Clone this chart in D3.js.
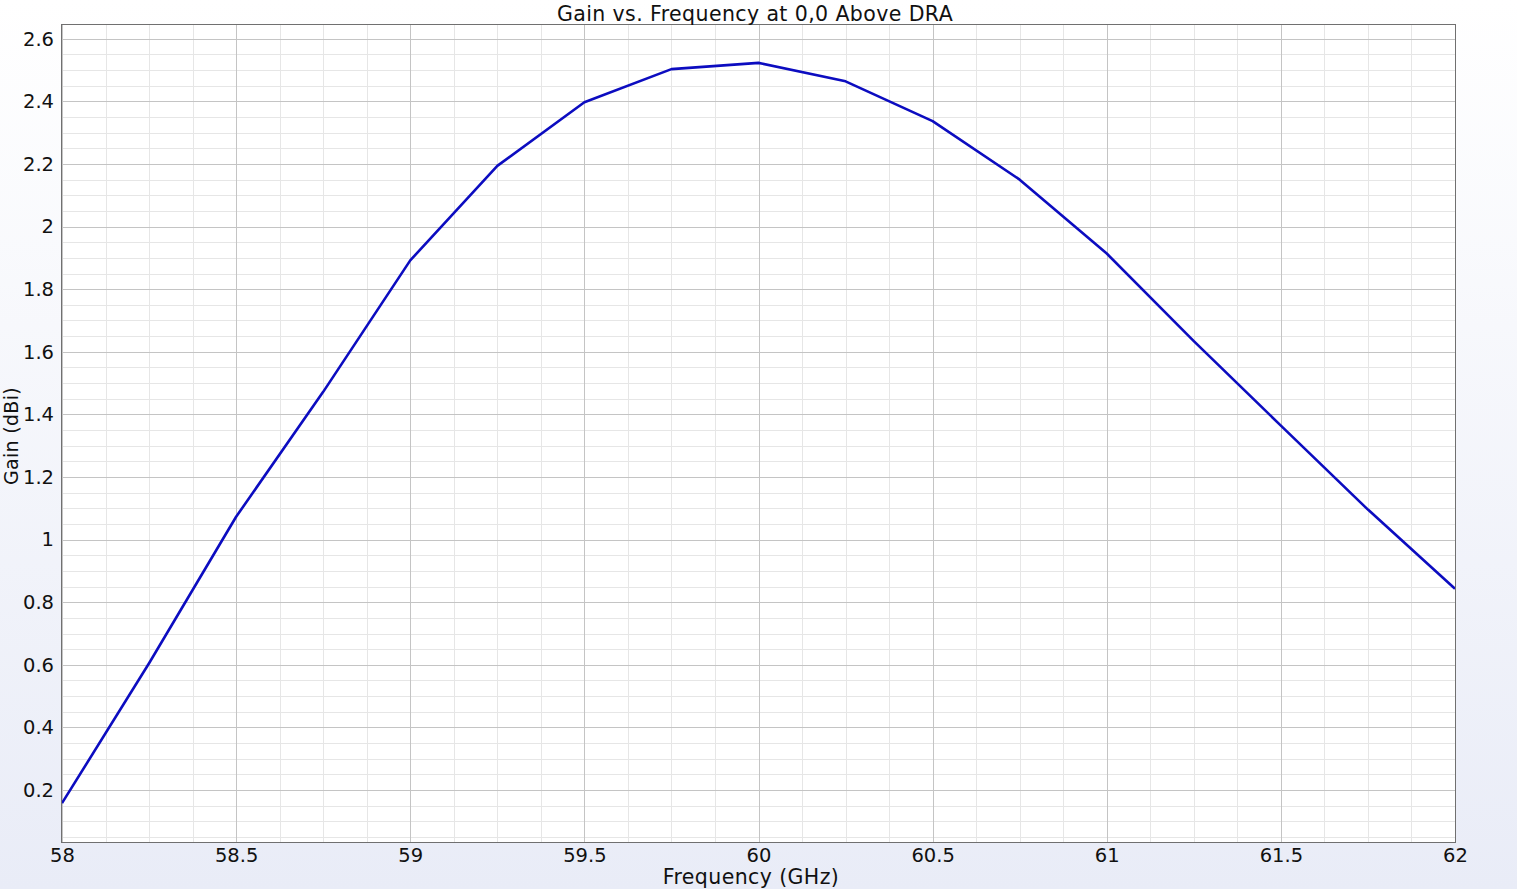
<!DOCTYPE html>
<html>
<head>
<meta charset="utf-8">
<script src="https://cdn.jsdelivr.net/npm/d3@7"></script>
<style>
  html, body { margin: 0; padding: 0; overflow: hidden; }
  body { font-family: "DejaVu Sans", sans-serif; }
</style>
</head>
<body>
<svg id="chart"></svg>
<script>
// --- DATA ---
const freqGHz = [58, 58.25, 58.5, 58.75, 59, 59.25, 59.5, 59.75, 60, 60.25, 60.5, 60.75, 61, 61.25, 61.5, 61.75, 62];
const gainDbi = [0.158, 0.605, 1.073, 1.472, 1.892, 2.194, 2.397, 2.503, 2.523, 2.464, 2.337, 2.150, 1.914, 1.634, 1.364, 1.096, 0.843];
const xTicks = [58, 58.5, 59, 59.5, 60, 60.5, 61, 61.5, 62];
const xTickLabels = ["58", "58.5", "59", "59.5", "60", "60.5", "61", "61.5", "62"];
const yTicks = [0.2, 0.4, 0.6, 0.8, 1.0, 1.2, 1.4, 1.6, 1.8, 2.0, 2.2, 2.4, 2.6];
const yTickLabels = ["0.2", "0.4", "0.6", "0.8", "1", "1.2", "1.4", "1.6", "1.8", "2", "2.2", "2.4", "2.6"];

const W = 1517, H = 889;
const plot = { left: 62, right: 1455, top: 25, bottom: 842 };

const svg = d3.select("#chart").attr("width", W).attr("height", H);

// background gradient
const defs = svg.append("defs");
const grad = defs.append("linearGradient").attr("id", "bg").attr("x1", 0).attr("y1", 0).attr("x2", 0).attr("y2", 1);
grad.append("stop").attr("offset", "0%").attr("stop-color", "#ffffff");
grad.append("stop").attr("offset", "100%").attr("stop-color", "#e9ecf7");
svg.append("rect").attr("width", W).attr("height", H).attr("fill", "url(#bg)");

const x = d3.scaleLinear().domain([58, 62]).range([plot.left, plot.right]);
const y = d3.scaleLinear().domain([0.034, 2.644]).range([plot.bottom, plot.top]);

svg.append("rect")
    .attr("x", plot.left).attr("y", plot.top)
    .attr("width", plot.right - plot.left).attr("height", plot.bottom - plot.top)
    .attr("fill", "#ffffff");

const grid = svg.append("g");

// minor grid
const xMinor = d3.range(58.125, 62, 0.125).filter(v => Math.abs(v * 2 - Math.round(v * 2)) > 1e-6);
const yMinor = d3.range(0.05, 2.644, 0.05).filter(v => Math.abs(v * 5 - Math.round(v * 5)) > 1e-6);

grid.selectAll(".xminor").data(xMinor).join("line")
    .attr("x1", d => Math.round(x(d)) + 0.5).attr("x2", d => Math.round(x(d)) + 0.5)
    .attr("y1", plot.top).attr("y2", plot.bottom)
    .attr("stroke", "#e6e6e6").attr("stroke-width", 1);
grid.selectAll(".yminor").data(yMinor).join("line")
    .attr("y1", d => Math.round(y(d)) + 0.5).attr("y2", d => Math.round(y(d)) + 0.5)
    .attr("x1", plot.left).attr("x2", plot.right)
    .attr("stroke", "#e6e6e6").attr("stroke-width", 1);

// major grid
grid.selectAll(".xmajor").data(xTicks).join("line")
    .attr("x1", d => Math.round(x(d)) + 0.5).attr("x2", d => Math.round(x(d)) + 0.5)
    .attr("y1", plot.top).attr("y2", plot.bottom)
    .attr("stroke", "#c4c4c4").attr("stroke-width", 1);
grid.selectAll(".ymajor").data(yTicks).join("line")
    .attr("y1", d => Math.round(y(d)) + 0.5).attr("y2", d => Math.round(y(d)) + 0.5)
    .attr("x1", plot.left).attr("x2", plot.right)
    .attr("stroke", "#c4c4c4").attr("stroke-width", 1);

// the curve
const line = d3.line().x(d => x(d[0])).y(d => y(d[1]));
svg.append("path")
    .datum(d3.zip(freqGHz, gainDbi))
    .attr("d", line)
    .attr("fill", "none")
    .attr("stroke", "#0c0cc0")
    .attr("stroke-width", 2.6)
    .attr("stroke-linejoin", "round");

// frame
svg.append("rect")
    .attr("x", plot.left - 0.5).attr("y", plot.top - 0.5)
    .attr("width", plot.right - plot.left + 1).attr("height", plot.bottom - plot.top + 1)
    .attr("fill", "none").attr("stroke", "#707070").attr("stroke-width", 1);

// axes (labels only, grid supplies the lines)
const xAxis = d3.axisBottom(x).tickValues(xTicks).tickSize(0).tickPadding(6)
    .tickFormat((d, i) => xTickLabels[i]);
const gx = svg.append("g").attr("transform", `translate(0,${plot.bottom})`).call(xAxis);
gx.select(".domain").remove();
gx.selectAll("text").style("font-family", "DejaVu Sans").style("font-size", "19.5px").attr("fill", "#111");

const yAxis = d3.axisLeft(y).tickValues(yTicks).tickSize(0).tickPadding(8)
    .tickFormat((d, i) => yTickLabels[i]);
const gy = svg.append("g").attr("transform", `translate(${plot.left},0)`).call(yAxis);
gy.select(".domain").remove();
gy.selectAll("text").style("font-family", "DejaVu Sans").style("font-size", "19.5px").attr("fill", "#111");

// titles
svg.append("text")
    .attr("x", 755).attr("y", 21)
    .attr("text-anchor", "middle")
    .style("font-family", "DejaVu Sans").style("font-size", "20.5px").style("letter-spacing", "0.4px")
    .attr("fill", "#111")
    .text("Gain vs. Frequency at 0,0 Above DRA");

svg.append("text")
    .attr("x", 751).attr("y", 884)
    .attr("text-anchor", "middle")
    .style("font-family", "DejaVu Sans").style("font-size", "20.5px").style("letter-spacing", "0.4px")
    .attr("fill", "#111")
    .text("Frequency (GHz)");

svg.append("text")
    .attr("transform", `translate(18,436) rotate(-90)`)
    .attr("text-anchor", "middle")
    .style("font-family", "DejaVu Sans").style("font-size", "19px").style("letter-spacing", "0.3px")
    .attr("fill", "#111")
    .text("Gain (dBi)");
</script>
</body>
</html>
